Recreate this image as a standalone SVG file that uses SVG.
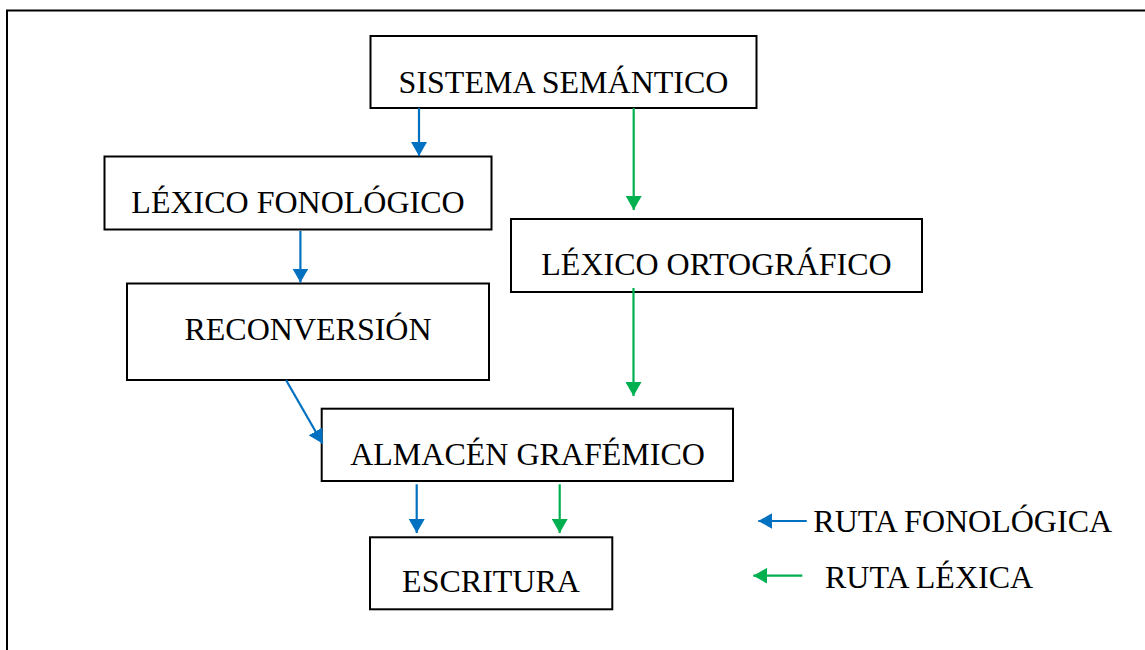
<svg xmlns="http://www.w3.org/2000/svg" width="1145" height="650" viewBox="0 0 1145 650">
<style>
.box{fill:#fff;stroke:#000;stroke-width:2}
.t{font-family:"Liberation Serif","Times New Roman",serif;font-size:32px;fill:#000;text-anchor:middle}
.tl{font-family:"Liberation Serif","Times New Roman",serif;font-size:32px;fill:#000}
.b{stroke:#0070C0;stroke-width:2.2;fill:none}
.g{stroke:#00B050;stroke-width:2.2;fill:none}
</style>
<defs>
<marker id="ab" viewBox="0 0 14 16" refX="14" refY="8" markerWidth="14" markerHeight="16" markerUnits="userSpaceOnUse" orient="auto"><polygon points="0,0 14,8 0,16" fill="#0070C0"/></marker>
<marker id="ag" viewBox="0 0 14 16" refX="14" refY="8" markerWidth="14" markerHeight="16" markerUnits="userSpaceOnUse" orient="auto"><polygon points="0,0 14,8 0,16" fill="#00B050"/></marker>
</defs>
<rect width="1145" height="650" fill="#fff"/>
<rect id="frame" x="7" y="10.5" width="1160" height="660" fill="none" stroke="#000" stroke-width="2"/>
<g id="n-sistema"><rect class="box" x="370.5" y="36" width="386" height="72"/><text class="t" x="563.5" y="92.5">SISTEMA SEMÁNTICO</text></g>
<g id="n-lexfon"><rect class="box" x="104.5" y="156.5" width="387" height="73"/><text class="t" x="298" y="212.7">LÉXICO FONOLÓGICO</text></g>
<g id="n-lexort"><rect class="box" x="511" y="219" width="411" height="73"/><text class="t" x="716.5" y="274.7">LÉXICO ORTOGRÁFICO</text></g>
<g id="n-reconv"><rect class="box" x="127" y="283.5" width="362" height="96.5"/><text class="t" x="308" y="340">RECONVERSIÓN</text></g>
<g id="n-almacen"><rect class="box" x="321.7" y="408.7" width="411.3" height="72.3"/><text class="t" x="527.5" y="465">ALMACÉN GRAFÉMICO</text></g>
<g id="n-escritura"><rect class="box" x="370" y="537.3" width="242.3" height="72"/><text class="t" x="491" y="592.3">ESCRITURA</text></g>
<g id="connectors">
<line class="b" x1="419" y1="108" x2="419" y2="156" marker-end="url(#ab)"/>
<line class="b" x1="300.4" y1="231" x2="300.4" y2="282.5" marker-end="url(#ab)"/>
<line class="b" x1="286" y1="380" x2="322.5" y2="443.5" marker-end="url(#ab)"/>
<line class="b" x1="416.7" y1="484.3" x2="416.7" y2="533" marker-end="url(#ab)"/>
<line class="g" x1="633.7" y1="108" x2="633.7" y2="210" marker-end="url(#ag)"/>
<line class="g" x1="633.5" y1="288" x2="633.5" y2="396" marker-end="url(#ag)"/>
<line class="g" x1="559.7" y1="484.3" x2="559.7" y2="533" marker-end="url(#ag)"/>
</g>
<g id="legend">
<line class="b" x1="806.7" y1="521" x2="758.3" y2="521" marker-end="url(#ab)"/>
<text class="tl" x="813.3" y="531.7">RUTA FONOLÓGICA</text>
<line class="g" x1="802.3" y1="575.7" x2="753.3" y2="575.7" marker-end="url(#ag)"/>
<text class="tl" x="825" y="587.7">RUTA LÉXICA</text>
</g>
</svg>
